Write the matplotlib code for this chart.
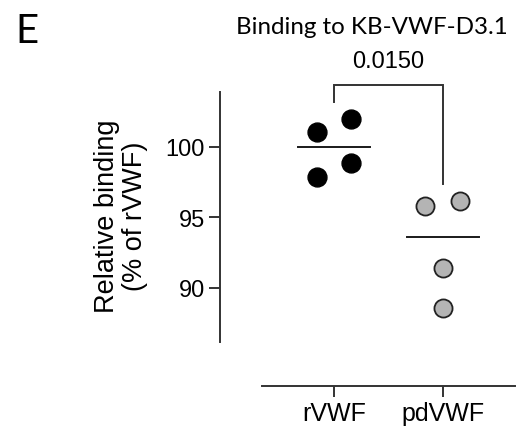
import numpy as np
import matplotlib
matplotlib.use("Agg")
import matplotlib.pyplot as plt

# Data
groups = ["rVWF", "pdVWF"]
rvwf = [101.05, 102.0, 97.9, 98.9]
pdvwf = [95.8, 96.15, 91.4, 88.55]
jitter_r = [-0.16, 0.16, -0.16, 0.16]
jitter_pd = [-0.165, 0.155, 0.0, 0.0]
p_value = "0.0150"
yticks = [90, 95, 100]

plt.rcParams['font.family'] = ['Liberation Sans', 'DejaVu Sans']

fig = plt.figure(figsize=(5.2, 4.35), dpi=100)
ax = fig.add_axes([262 / 520, 92 / 435, 253 / 520, 250 / 435])

edge = '#333333'
ax.scatter(np.array(jitter_r) + 0, rvwf, s=185, color='black', zorder=3, clip_on=False)
ax.scatter(np.array(jitter_pd) + 1, pdvwf, s=170, facecolor='#b4b4b4',
           edgecolor='#222222', linewidth=1.3, zorder=3, clip_on=False)

# median lines
for i, vals in enumerate([rvwf, pdvwf]):
    m = np.median(vals)
    ax.plot([i - 0.33, i + 0.33], [m, m], color='#1a1a1a', lw=1.4, zorder=2)

# significance bracket
ax.plot([0, 0, 1, 1], [103.2, 104.4, 104.4, 97.4], color=edge, lw=1.4,
        clip_on=False, solid_joinstyle='miter')

ax.set_xlim(-0.66, 1.66)
ax.set_ylim(86.17, 103.9)
ax.set_xticks([0, 1])
ax.set_xticklabels(groups)
ax.set_yticks(yticks)
ax.set_yticklabels([str(t) for t in yticks])

for side in ['top', 'right']:
    ax.spines[side].set_visible(False)
ax.spines['left'].set_position(('outward', 30.2))
ax.spines['bottom'].set_position(('outward', 31.7))
for side in ['left', 'bottom']:
    ax.spines[side].set_linewidth(1.4)
    ax.spines[side].set_color(edge)
ax.tick_params(axis='both', length=8, width=1.4, color=edge, pad=3)
ax.tick_params(axis='x', labelsize=18)
ax.tick_params(axis='y', labelsize=17)
ax.patch.set_alpha(0)

fig.text(121 / 520, 1 - 216 / 435, "Relative binding\n(% of rVWF)", rotation=90,
         ha='center', va='center', multialignment='center', fontsize=19.5,
         linespacing=1.15)
fig.text(388 / 520, 1 - 68 / 435, p_value, ha='center', va='baseline', fontsize=17)
fig.text(372 / 520, 1 - 34 / 435, "Binding to KB-VWF-D3.1", ha='center', va='baseline',
         fontsize=17.4, family=['Lato', 'DejaVu Sans'])
fig.text(15 / 520, 1 - 43 / 435, "E", ha='left', va='baseline', fontsize=29,
         family=['Lato', 'DejaVu Sans'])

fig.savefig("out.png", dpi=100)
